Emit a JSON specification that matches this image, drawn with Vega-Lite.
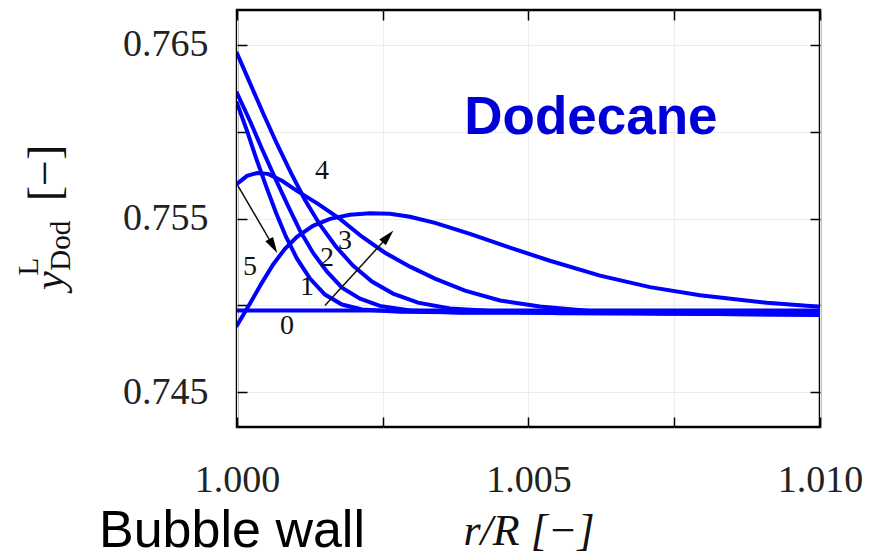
{
  "$schema": "https://vega.github.io/schema/vega-lite/v6.json",
  "width": 583,
  "height": 417,
  "autosize": {"type": "none"},
  "padding": {"left": 237, "top": 10, "right": 72, "bottom": 131},
  "background": "white",
  "config": {
    "view": {"stroke": "#000", "strokeWidth": 2.5},
    "font": "Liberation Serif"
  },
  "datasets": {
    "curves": [
      {"run": "0", "r": 1.0, "y": 0.7497},
      {"run": "0", "r": 1.01, "y": 0.7497},

      {"run": "1", "r": 1.0, "y": 0.76164},
      {"run": "1", "r": 1.000172, "y": 0.76004},
      {"run": "1", "r": 1.000326, "y": 0.75849},
      {"run": "1", "r": 1.000497, "y": 0.75688},
      {"run": "1", "r": 1.000669, "y": 0.75533},
      {"run": "1", "r": 1.00084, "y": 0.75395},
      {"run": "1", "r": 1.001029, "y": 0.75269},
      {"run": "1", "r": 1.001252, "y": 0.75154},
      {"run": "1", "r": 1.001509, "y": 0.75062},
      {"run": "1", "r": 1.001801, "y": 0.75005},
      {"run": "1", "r": 1.002144, "y": 0.74976},
      {"run": "1", "r": 1.002795, "y": 0.74964},
      {"run": "1", "r": 1.003653, "y": 0.7496},
      {"run": "1", "r": 1.01, "y": 0.7496},

      {"run": "2", "r": 1.0, "y": 0.76222},
      {"run": "2", "r": 1.000223, "y": 0.76061},
      {"run": "2", "r": 1.000429, "y": 0.759},
      {"run": "2", "r": 1.000652, "y": 0.75734},
      {"run": "2", "r": 1.000875, "y": 0.75573},
      {"run": "2", "r": 1.00108, "y": 0.7543},
      {"run": "2", "r": 1.001303, "y": 0.75303},
      {"run": "2", "r": 1.001544, "y": 0.75194},
      {"run": "2", "r": 1.001801, "y": 0.75102},
      {"run": "2", "r": 1.00211, "y": 0.75039},
      {"run": "2", "r": 1.002452, "y": 0.74997},
      {"run": "2", "r": 1.002967, "y": 0.7497},
      {"run": "2", "r": 1.003824, "y": 0.74958},
      {"run": "2", "r": 1.01, "y": 0.74955},

      {"run": "3", "r": 1.0, "y": 0.76451},
      {"run": "3", "r": 1.000223, "y": 0.76279},
      {"run": "3", "r": 1.000446, "y": 0.76107},
      {"run": "3", "r": 1.000686, "y": 0.75929},
      {"run": "3", "r": 1.000926, "y": 0.75762},
      {"run": "3", "r": 1.001166, "y": 0.75607},
      {"run": "3", "r": 1.001423, "y": 0.75464},
      {"run": "3", "r": 1.001698, "y": 0.75338},
      {"run": "3", "r": 1.001989, "y": 0.75229},
      {"run": "3", "r": 1.002315, "y": 0.75137},
      {"run": "3", "r": 1.002675, "y": 0.75068},
      {"run": "3", "r": 1.003104, "y": 0.75016},
      {"run": "3", "r": 1.003653, "y": 0.74982},
      {"run": "3", "r": 1.00451, "y": 0.74965},
      {"run": "3", "r": 1.005539, "y": 0.74954},
      {"run": "3", "r": 1.01, "y": 0.74948},

      {"run": "4", "r": 1.0, "y": 0.75699},
      {"run": "4", "r": 1.000172, "y": 0.75745},
      {"run": "4", "r": 1.000343, "y": 0.75762},
      {"run": "4", "r": 1.000532, "y": 0.75757},
      {"run": "4", "r": 1.000772, "y": 0.75717},
      {"run": "4", "r": 1.001029, "y": 0.75659},
      {"run": "4", "r": 1.001389, "y": 0.75584},
      {"run": "4", "r": 1.001766, "y": 0.75498},
      {"run": "4", "r": 1.002144, "y": 0.75395},
      {"run": "4", "r": 1.002538, "y": 0.75303},
      {"run": "4", "r": 1.002967, "y": 0.75223},
      {"run": "4", "r": 1.003396, "y": 0.75154},
      {"run": "4", "r": 1.00391, "y": 0.75085},
      {"run": "4", "r": 1.00451, "y": 0.75028},
      {"run": "4", "r": 1.005197, "y": 0.74993},
      {"run": "4", "r": 1.006054, "y": 0.74968},
      {"run": "4", "r": 1.007084, "y": 0.74954},
      {"run": "4", "r": 1.01, "y": 0.74945},

      {"run": "5", "r": 1.0, "y": 0.74884},
      {"run": "5", "r": 1.000223, "y": 0.75011},
      {"run": "5", "r": 1.000429, "y": 0.75131},
      {"run": "5", "r": 1.000617, "y": 0.75234},
      {"run": "5", "r": 1.000823, "y": 0.75326},
      {"run": "5", "r": 1.001029, "y": 0.75395},
      {"run": "5", "r": 1.001303, "y": 0.75458},
      {"run": "5", "r": 1.001595, "y": 0.75498},
      {"run": "5", "r": 1.001938, "y": 0.75521},
      {"run": "5", "r": 1.002281, "y": 0.7553},
      {"run": "5", "r": 1.002624, "y": 0.75527},
      {"run": "5", "r": 1.002967, "y": 0.7551},
      {"run": "5", "r": 1.003396, "y": 0.75475},
      {"run": "5", "r": 1.003996, "y": 0.75412},
      {"run": "5", "r": 1.004682, "y": 0.75332},
      {"run": "5", "r": 1.005368, "y": 0.75257},
      {"run": "5", "r": 1.006226, "y": 0.75171},
      {"run": "5", "r": 1.007084, "y": 0.75105},
      {"run": "5", "r": 1.007942, "y": 0.75058},
      {"run": "5", "r": 1.009091, "y": 0.75015},
      {"run": "5", "r": 1.01, "y": 0.74992}
    ],
    "arrows": [
      {"id": "wall", "r": 1.000017, "y": 0.75688, "r2": 1.000621, "y2": 0.75341},
      {"id": "front", "r": 1.001509, "y": 0.74999, "r2": 1.00259, "y2": 0.75397}
    ],
    "runLabels": [
      {"txt": "0", "r": 1.000858, "y": 0.74884},
      {"txt": "1", "r": 1.0012, "y": 0.75103},
      {"txt": "2", "r": 1.001544, "y": 0.75275},
      {"txt": "3", "r": 1.001852, "y": 0.75372},
      {"txt": "4", "r": 1.001458, "y": 0.75774},
      {"txt": "5", "r": 1.000223, "y": 0.75218}
    ]
  },
  "layer": [
    {
      "data": {"name": "curves"},
      "mark": {"type": "line", "color": "#0000ff", "strokeWidth": 4, "strokeCap": "round", "clip": true},
      "encoding": {
        "x": {
          "field": "r", "type": "quantitative",
          "scale": {"domain": [1.0, 1.01], "zero": false, "nice": false},
          "axis": {
            "orient": "bottom",
            "values": [1.0, 1.0025, 1.005, 1.0075, 1.01],
            "labelExpr": "indexof(['1.000','1.005','1.010'], format(datum.value, '.3f')) >= 0 ? format(datum.value, '.3f') : ''",
            "labelFont": "Liberation Serif", "labelFontSize": 38, "labelColor": "#222",
            "labelFlush": false, "labelOverlap": false, "labelPadding": 44,
            "tickSize": -10, "tickColor": "#000", "tickWidth": 1.5,
            "domain": false,
            "grid": true, "gridColor": "#ececec", "gridWidth": 1,
            "title": "r/R [−]",
            "titleFont": "Liberation Serif", "titleFontStyle": "italic", "titleFontWeight": "normal",
            "titleFontSize": 44, "titleColor": "#111", "titlePadding": 10
          }
        },
        "y": {
          "field": "y", "type": "quantitative",
          "scale": {"domain": [0.743, 0.767], "zero": false, "nice": false},
          "axis": {
            "orient": "left",
            "values": [0.745, 0.75, 0.755, 0.76, 0.765],
            "labelExpr": "indexof(['0.745','0.755','0.765'], format(datum.value, '.3f')) >= 0 ? format(datum.value, '.3f') : ''",
            "labelFont": "Liberation Serif", "labelFontSize": 38, "labelColor": "#222",
            "labelFlush": false, "labelOverlap": false, "labelPadding": 39,
            "tickSize": -10, "tickColor": "#000", "tickWidth": 1.5,
            "domain": false,
            "grid": true, "gridColor": "#ececec", "gridWidth": 1,
            "title": null
          }
        },
        "detail": {"field": "run", "type": "nominal"}
      }
    },
    {
      "data": {"name": "arrows"},
      "mark": {"type": "rule", "color": "#111", "strokeWidth": 1.5},
      "encoding": {
        "x": {
          "field": "r", "type": "quantitative",
          "scale": {"domain": [1.0, 1.01], "zero": false, "nice": false},
          "axis": {
            "orient": "top", "values": [1.0, 1.0025, 1.005, 1.0075, 1.01],
            "labels": false, "tickSize": -10, "tickColor": "#000", "tickWidth": 1.5,
            "domain": false, "grid": false, "title": null
          }
        },
        "y": {
          "field": "y", "type": "quantitative",
          "scale": {"domain": [0.743, 0.767], "zero": false, "nice": false},
          "axis": {
            "orient": "right", "values": [0.745, 0.75, 0.755, 0.76, 0.765],
            "labels": false, "tickSize": -10, "tickColor": "#000", "tickWidth": 1.5,
            "domain": false, "grid": false, "title": null
          }
        },
        "x2": {"field": "r2"},
        "y2": {"field": "y2"}
      }
    },
    {
      "data": {"name": "arrows"},
      "transform": [{"filter": "datum.id === 'wall'"}],
      "mark": {"type": "point", "shape": "M0,-1L0.55,1L-0.55,1Z", "size": 260, "filled": true, "color": "#000", "opacity": 1, "angle": 150},
      "encoding": {
        "x": {"field": "r2", "type": "quantitative", "scale": {"domain": [1.0, 1.01], "zero": false, "nice": false}, "axis": null},
        "y": {"field": "y2", "type": "quantitative", "scale": {"domain": [0.743, 0.767], "zero": false, "nice": false}, "axis": null}
      }
    },
    {
      "data": {"name": "arrows"},
      "transform": [{"filter": "datum.id === 'front'"}],
      "mark": {"type": "point", "shape": "M0,-1L0.55,1L-0.55,1Z", "size": 260, "filled": true, "color": "#000", "opacity": 1, "angle": 42},
      "encoding": {
        "x": {"field": "r2", "type": "quantitative", "scale": {"domain": [1.0, 1.01], "zero": false, "nice": false}, "axis": null},
        "y": {"field": "y2", "type": "quantitative", "scale": {"domain": [0.743, 0.767], "zero": false, "nice": false}, "axis": null}
      }
    },
    {
      "data": {"name": "runLabels"},
      "mark": {"type": "text", "font": "Liberation Serif", "fontSize": 28, "color": "#111", "align": "center", "baseline": "middle"},
      "encoding": {
        "x": {"field": "r", "type": "quantitative", "scale": {"domain": [1.0, 1.01], "zero": false, "nice": false}, "axis": null},
        "y": {"field": "y", "type": "quantitative", "scale": {"domain": [0.743, 0.767], "zero": false, "nice": false}, "axis": null},
        "text": {"field": "txt"}
      }
    },
    {
      "data": {"values": [{"txt": "Dodecane", "r": 1.006071, "y": 0.75986}]},
      "mark": {"type": "text", "font": "Liberation Sans", "fontSize": 53, "fontWeight": "bold", "color": "#0000d6", "align": "center", "baseline": "alphabetic"},
      "encoding": {
        "x": {"field": "r", "type": "quantitative", "scale": {"domain": [1.0, 1.01], "zero": false, "nice": false}, "axis": null},
        "y": {"field": "y", "type": "quantitative", "scale": {"domain": [0.743, 0.767], "zero": false, "nice": false}, "axis": null},
        "text": {"field": "txt"}
      }
    },
    {
      "data": {"values": [{"txt": "Bubble wall", "r": 0.999914, "y": 0.7361}]},
      "mark": {"type": "text", "font": "Liberation Sans", "fontSize": 52, "color": "#000", "align": "center", "baseline": "alphabetic"},
      "encoding": {
        "x": {"field": "r", "type": "quantitative", "scale": {"domain": [1.0, 1.01], "zero": false, "nice": false}, "axis": null},
        "y": {"field": "y", "type": "quantitative", "scale": {"domain": [0.743, 0.767], "zero": false, "nice": false}, "axis": null},
        "text": {"field": "txt"}
      }
    },
    {
      "data": {"values": [{"txt": "y", "r": 0.997016, "y": 0.75142}]},
      "mark": {"type": "text", "font": "Liberation Serif", "fontSize": 42, "fontStyle": "italic", "color": "#111", "align": "center", "baseline": "alphabetic", "angle": 270},
      "encoding": {
        "x": {"field": "r", "type": "quantitative", "scale": {"domain": [1.0, 1.01], "zero": false, "nice": false}, "axis": null},
        "y": {"field": "y", "type": "quantitative", "scale": {"domain": [0.743, 0.767], "zero": false, "nice": false}, "axis": null},
        "text": {"field": "txt"}
      }
    },
    {
      "data": {"values": [{"txt": "L", "r": 0.996587, "y": 0.75223}, {"txt": "Dod", "r": 0.997136, "y": 0.75343}]},
      "mark": {"type": "text", "font": "Liberation Serif", "fontSize": 29, "color": "#111", "align": "center", "baseline": "alphabetic", "angle": 270},
      "encoding": {
        "x": {"field": "r", "type": "quantitative", "scale": {"domain": [1.0, 1.01], "zero": false, "nice": false}, "axis": null},
        "y": {"field": "y", "type": "quantitative", "scale": {"domain": [0.743, 0.767], "zero": false, "nice": false}, "axis": null},
        "text": {"field": "txt"}
      }
    },
    {
      "data": {"values": [{"txt": "[−]", "r": 0.996965, "y": 0.75762}]},
      "mark": {"type": "text", "font": "Liberation Serif", "fontSize": 46, "color": "#111", "align": "center", "baseline": "alphabetic", "angle": 270},
      "encoding": {
        "x": {"field": "r", "type": "quantitative", "scale": {"domain": [1.0, 1.01], "zero": false, "nice": false}, "axis": null},
        "y": {"field": "y", "type": "quantitative", "scale": {"domain": [0.743, 0.767], "zero": false, "nice": false}, "axis": null},
        "text": {"field": "txt"}
      }
    }
  ]
}
